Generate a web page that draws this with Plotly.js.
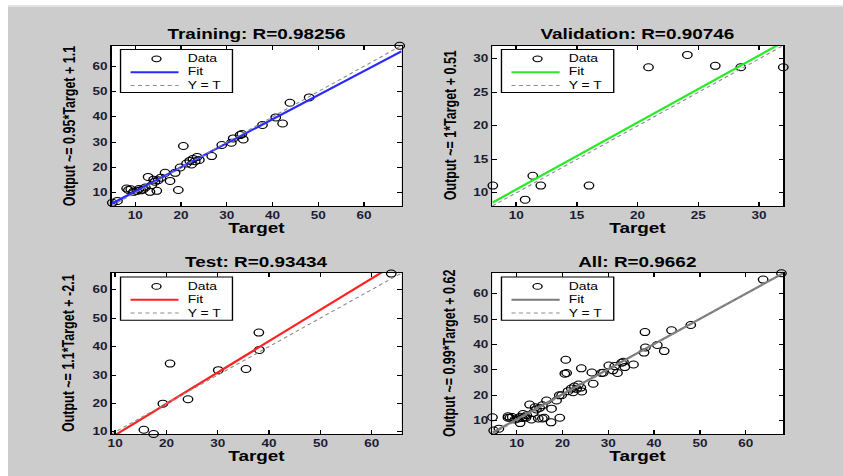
<!DOCTYPE html>
<html>
<head>
<meta charset="utf-8">
<script src="https://cdn.plot.ly/plotly-3.0.1.min.js"></script>
<style>
  html, body { margin: 0; padding: 0; background: #ffffff; width: 843px; height: 476px; overflow: hidden; }
  #topline { position: absolute; left: 8px; top: 5px; width: 835px; height: 2px; background: #dde2ec; }
  #chart { position: absolute; left: 8px; top: 7px; width: 618px; height: 469px; transform: scaleX(1.3511); transform-origin: 0 0; }
</style>
</head>
<body>
<div id="topline"></div>
<div id="chart"></div>
<script>
// ---- data ----
const trainTarget = [4.97, 6.1, 4.7, 8.1, 8.5, 9.0, 9.6, 10.3, 10.8, 11.2, 11.7, 12.2, 12.8, 13.2, 13.6, 14.0, 14.3, 14.7, 15.0, 15.6, 16.5, 17.6, 18.7, 19.4, 19.8, 20.5, 21.2, 21.9, 22.3, 22.6, 23.1, 23.5, 24.0, 26.7, 28.9, 31.0, 31.4, 32.9, 33.3, 33.6, 37.8, 40.7, 42.2, 43.8, 48.0, 67.8];
const trainOutput = [6.05, 6.8, 11.3, 11.7, 11.1, 11.4, 10.4, 10.8, 11.5, 11.0, 11.3, 12.1, 16.3, 10.4, 13.0, 15.2, 14.4, 10.8, 15.0, 16.0, 17.9, 14.7, 17.9, 11.1, 20.0, 28.5, 21.6, 22.6, 21.2, 23.4, 22.5, 24.2, 23.0, 24.5, 28.9, 29.8, 31.5, 32.8, 33.2, 31.1, 36.8, 39.8, 37.4, 45.6, 47.7, 68.1];

const valTarget = [8.08, 10.74, 11.37, 12.03, 16.0, 20.9, 24.1, 26.4, 28.5, 32.0];
const valOutput = [11.1, 9.0, 12.57, 11.1, 11.1, 28.76, 30.6, 28.96, 28.76, 28.76];

const testTarget = [15.6, 17.5, 19.3, 20.7, 24.2, 30.1, 35.5, 38.0, 38.1, 63.8];
const testOutput = [10.8, 9.3, 19.95, 34.0, 21.5, 31.7, 32.1, 44.9, 38.8, 65.6];

const allTarget = trainTarget.concat(valTarget, testTarget);
const allOutput = trainOutput.concat(valOutput, testOutput);

const panelNames = ['Training', 'Validation', 'Test', 'All'];
const panelR = ['0.98256', '0.90746', '0.93434', '0.9662'];
const fitSlope = [0.95, 1, 1.1, 0.99];
const fitIntercept = [1.1, 0.51, -2.1, 0.62];
const slopeLabels = ['0.95', '1', '1.1', '0.99'];
const interceptLabels = ['1.1', '0.51', '-2.1', '0.62'];
const legendLabels = ['Data', 'Fit', 'Y = T'];

// ---- styling / layout ----
const targets = [trainTarget, valTarget, testTarget, allTarget];
const outputs = [trainOutput, valOutput, testOutput, allOutput];
const ranges = [[4.8, 68.2], [8.05, 32], [9.3, 65.8], [4.7, 68.2]];
const dticks = [10, 5, 10, 10];
const fitColors = ['#2a2aff', '#22ee22', '#ff2222', '#7a7a7a'];
const xDomains = [[0.1240, 0.4713], [0.5802, 0.9285], [0.1240, 0.4713], [0.5802, 0.9285]];
const yDomains = [[0.5757, 0.9179], [0.5757, 0.9179], [0.0896, 0.4328], [0.0896, 0.4328]];

const FONT = 'Liberation Sans, Arial, sans-serif';
const traces = [];
const layout = {
  width: 618, height: 469,
  margin: {l: 0, r: 0, t: 0, b: 0},
  paper_bgcolor: '#cccccc',
  plot_bgcolor: '#ffffff',
  showlegend: false,
  annotations: [],
  shapes: []
};

for (let i = 0; i < 4; i++) {
  const n = i === 0 ? '' : String(i + 1);
  const xa = 'x' + n, ya = 'y' + n;
  const xd = xa + ' domain', yd = ya + ' domain';
  const r = ranges[i];

  traces.push({
    type: 'scatter', mode: 'markers', xaxis: xa, yaxis: ya,
    x: targets[i], y: outputs[i], cliponaxis: false,
    marker: {symbol: 'circle-open', size: 7, color: '#000000', line: {width: 1, color: '#000000'}}
  });
  traces.push({
    type: 'scatter', mode: 'lines', xaxis: xa, yaxis: ya,
    x: r, y: r.map(v => fitSlope[i] * v + fitIntercept[i]),
    line: {color: fitColors[i], width: 2}
  });
  traces.push({
    type: 'scatter', mode: 'lines', xaxis: xa, yaxis: ya,
    x: r, y: r,
    line: {color: '#8c8c8c', width: 1, dash: '3px,2.5px'}
  });

  const axCommon = {
    range: r, dtick: dticks[i], tick0: 0,
    showgrid: false, zeroline: false,
    showline: true, linecolor: '#000000', linewidth: 1, mirror: 'allticks',
    ticks: 'inside', tickcolor: '#000000', tickwidth: 1,
    tickfont: {family: FONT, size: 10, weight: 'bold', color: '#1c1c34'}
  };
  layout['xaxis' + n] = Object.assign({}, axCommon, {domain: xDomains[i], anchor: ya, ticklen: 4});
  layout['yaxis' + n] = Object.assign({}, axCommon, {domain: yDomains[i], anchor: xa, ticklen: 3});

  // panel title
  layout.annotations.push({
    xref: xd, yref: yd, x: 0.5, y: 1, yshift: 11.5, xanchor: 'center', yanchor: 'middle',
    text: panelNames[i] + ': R=' + panelR[i], showarrow: false,
    font: {family: FONT, size: 14, weight: 'bold', color: '#000000'}
  });
  // x title
  layout.annotations.push({
    xref: xd, yref: yd, x: 0.5, y: 0, yshift: -22.5, xanchor: 'center', yanchor: 'middle',
    text: 'Target', showarrow: false,
    font: {family: FONT, size: 14, weight: 'bold', color: '#000000'}
  });
  // y title
  layout.annotations.push({
    xref: xd, yref: yd, x: 0, y: 0.5, xshift: -31, xanchor: 'center', yanchor: 'middle',
    textangle: -90,
    text: 'Output ~= ' + slopeLabels[i] + '*Target + ' + interceptLabels[i], showarrow: false,
    font: {family: FONT, size: 12.5, weight: 'bold', color: '#000000'}
  });

  // legend box
  layout.shapes.push({type: 'rect', xref: xd, yref: yd, x0: 0.031, x1: 0.417, y0: 0.707, y1: 0.975,
    fillcolor: '#ffffff', line: {color: '#000000', width: 1}, layer: 'above'});
  const rows = [0.917, 0.834, 0.751];
  layout.shapes.push({type: 'circle', xref: xd, yref: yd, x0: 0.155 - 0.0155, x1: 0.155 + 0.0155,
    y0: rows[0] - 0.018, y1: rows[0] + 0.018, line: {color: '#000000', width: 1}, layer: 'above'});
  layout.shapes.push({type: 'line', xref: xd, yref: yd, x0: 0.0655, x1: 0.231, y0: rows[1], y1: rows[1],
    line: {color: fitColors[i], width: 2}, layer: 'above'});
  layout.shapes.push({type: 'line', xref: xd, yref: yd, x0: 0.0655, x1: 0.231, y0: rows[2], y1: rows[2],
    line: {color: '#8c8c8c', width: 1, dash: '3px,2.5px'}, layer: 'above'});
  layout.annotations.push({
    xref: xd, yref: yd, x: 0.259, y: rows[1], xanchor: 'left', yanchor: 'middle', align: 'left',
    text: legendLabels.join('<br>'), showarrow: false, borderpad: 0,
    font: {family: FONT, size: 10.3, color: '#000000'}
  });
}

Plotly.newPlot('chart', traces, layout, {staticPlot: true, displayModeBar: false});
</script>
</body>
</html>
